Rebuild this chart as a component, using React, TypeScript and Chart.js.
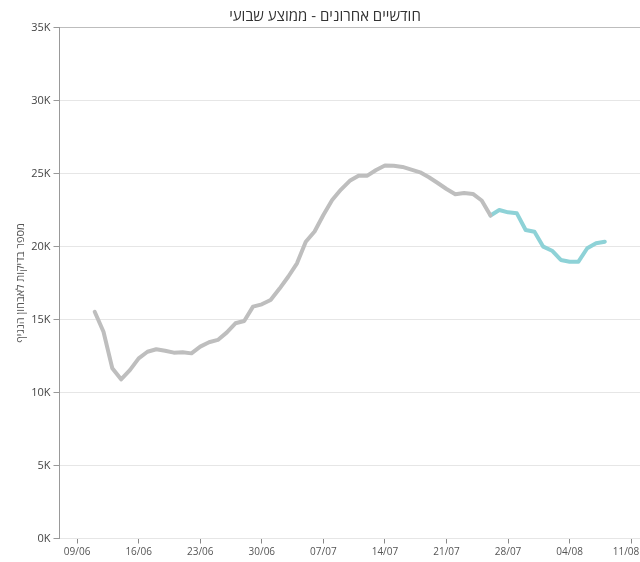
import React, { useEffect, useRef } from "react";
import Chart from "chart.js/auto";

// ---- data ----
const chartTitle = "חודשיים אחרונים - ממוצע שבועי";
const yAxisTitle = "מספר בדיקות לאבחון הנגיף";

const grayDates = [
  "2020-06-11", "2020-06-12", "2020-06-13", "2020-06-14", "2020-06-15", "2020-06-16",
  "2020-06-17", "2020-06-18", "2020-06-19", "2020-06-20", "2020-06-21", "2020-06-22",
  "2020-06-23", "2020-06-24", "2020-06-25", "2020-06-26", "2020-06-27", "2020-06-28",
  "2020-06-29", "2020-06-30", "2020-07-01", "2020-07-02", "2020-07-03", "2020-07-04",
  "2020-07-05", "2020-07-06", "2020-07-07", "2020-07-08", "2020-07-09", "2020-07-10",
  "2020-07-11", "2020-07-12", "2020-07-13", "2020-07-14", "2020-07-15", "2020-07-16",
  "2020-07-17", "2020-07-18", "2020-07-19", "2020-07-20", "2020-07-21", "2020-07-22",
  "2020-07-23", "2020-07-24", "2020-07-25", "2020-07-26",
];
const grayValues = [
  15530, 14160, 11660, 10900, 11530, 12340,
  12790, 12960, 12860, 12730, 12750, 12680,
  13140, 13440, 13600, 14100, 14740, 14900,
  15880, 16040, 16340, 17100, 17930, 18850,
  20330, 21030, 22160, 23180, 23900, 24500,
  24850, 24850, 25240, 25550, 25530, 25450,
  25270, 25080, 24740, 24350, 23940, 23580,
  23660, 23600, 23150, 22120,
];

const tealDates = [
  "2020-07-26", "2020-07-27", "2020-07-28", "2020-07-29", "2020-07-30", "2020-07-31",
  "2020-08-01", "2020-08-02", "2020-08-03", "2020-08-04", "2020-08-05", "2020-08-06",
  "2020-08-07", "2020-08-08",
];
const tealValues = [
  22120, 22500, 22340, 22270, 21130, 21010,
  19990, 19710, 19080, 18960, 18960, 19880,
  20220, 20330,
];

const tickDates = [
  "2020-06-09", "2020-06-16", "2020-06-23", "2020-06-30", "2020-07-07",
  "2020-07-14", "2020-07-21", "2020-07-28", "2020-08-04", "2020-08-11",
];
const tickLabels = ["09/06", "16/06", "23/06", "30/06", "07/07", "14/07", "21/07", "28/07", "04/08", "11/08"];

const xMinDate = "2020-06-07";
const xMaxDate = "2020-08-12";

const yTicks = [0, 5000, 10000, 15000, 20000, 25000, 30000, 35000];
const yTickLabels = ["0K", "5K", "10K", "15K", "20K", "25K", "30K", "35K"];

// ---- helpers ----
const DAY = 86400000;
const ORIGIN = Date.parse("2020-06-09T00:00:00Z");
const toDay = (iso: string) => (Date.parse(iso + "T00:00:00Z") - ORIGIN) / DAY;

const FONT = "'Open Sans', 'Noto Sans', 'DejaVu Sans', sans-serif";

export default function App() {
  const ref = useRef<HTMLCanvasElement | null>(null);

  useEffect(() => {
    if (!ref.current) return;
    const tickDays = tickDates.map(toDay);
    const chart = new Chart(ref.current, {
      type: "line",
      data: {
        datasets: [
          {
            data: grayDates.map((d, i) => ({ x: toDay(d), y: grayValues[i] })),
            borderColor: "#bebebe",
            borderWidth: 4,
            pointRadius: 0,
            tension: 0,
            borderJoinStyle: "round",
            borderCapStyle: "round",
          },
          {
            data: tealDates.map((d, i) => ({ x: toDay(d), y: tealValues[i] })),
            borderColor: "#8ed2d7",
            borderWidth: 4,
            pointRadius: 0,
            tension: 0,
            borderJoinStyle: "round",
            borderCapStyle: "round",
          },
        ],
      },
      options: {
        animation: false,
        responsive: true,
        maintainAspectRatio: false,
        layout: { padding: { left: 10, right: 0, top: 0, bottom: 0.5 } },
        plugins: {
          legend: { display: false },
          tooltip: { enabled: false },
          title: {
            display: true,
            text: chartTitle,
            color: "#333",
            font: { family: FONT, size: 15, weight: "normal" },
            padding: { top: 8, bottom: 1.5 },
          },
        },
        scales: {
          x: {
            type: "linear",
            min: toDay(xMinDate),
            max: toDay(xMaxDate),
            afterBuildTicks: (s: any) => {
              s.ticks = tickDays.map((v) => ({ value: v }));
            },
            afterFit: (s: any) => {
              s.paddingRight = 0;
              s.paddingLeft = 0;
            },
            ticks: {
              autoSkip: false,
              maxRotation: 0,
              padding: 3,
              color: "#555",
              font: { family: FONT, size: 10 },
              callback: (v: any) => {
                const i = tickDays.indexOf(Number(v));
                if (i < 0) return "";
                return i === tickLabels.length - 1
                  ? tickLabels[i] + "\u00a0\u00a0\u00a0\u00a0"
                  : tickLabels[i];
              },
            },
            grid: { drawOnChartArea: false, drawTicks: true, tickLength: 5, tickColor: "#888" },
            border: { display: false },
          },
          y: {
            min: 0,
            max: 35000,
            afterBuildTicks: (s: any) => {
              s.ticks = yTicks.map((v) => ({ value: v }));
            },
            ticks: {
              padding: 3,
              color: "#444",
              font: { family: FONT, size: 11 },
              callback: (v: any) => {
                const i = yTicks.indexOf(Number(v));
                return i >= 0 ? yTickLabels[i] : "";
              },
            },
            grid: {
              color: (c: any) => (c.tick && c.tick.value === 35000 ? "#bdbdbd" : "#e6e6e6"),
              tickLength: 6,
              tickColor: "#999",
            },
            border: { color: "#999" },
            title: {
              display: true,
              text: yAxisTitle,
              color: "#555",
              font: { family: FONT, size: 11 },
              padding: { top: 4, bottom: 1 },
            },
          },
        },
      },
    } as any);
    return () => chart.destroy();
  }, []);

  return (
    <div style={{ position: "fixed", left: 0, top: 0, width: 640, height: 562, background: "#fff" }}>
      <canvas ref={ref} />
    </div>
  );
}
